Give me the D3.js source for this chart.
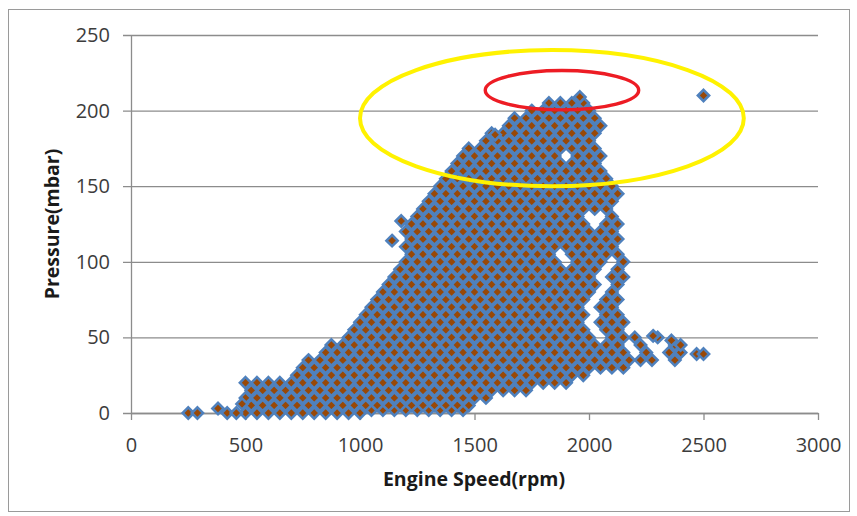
<!DOCTYPE html>
<html><head><meta charset="utf-8">
<script src="https://cdn.jsdelivr.net/npm/d3@7"></script>
<style>body{margin:0;background:#fff}svg{display:block}</style>
</head><body>
<svg id="c" width="857" height="516"></svg>
<script>
// ---------- data ----------
const xTicks = [0, 500, 1000, 1500, 2000, 2500, 3000];
const yTicks = [0, 50, 100, 150, 200, 250];
const xTitle = "Engine Speed(rpm)";
const yTitle = "Pressure(mbar)";

// pressure level (mbar) of each row of readings, and the engine speeds (rpm) read at that level
const pressureLevels = [0,2,5,10,15,20,25,30,35,40,45,50,55,60,65,70,75,80,85,90,95,100,105,110,115,120,125,130,135,140,145,150,155,160,165,170,175,180,185,190,195,200,205];
const speedRows = [
 [500,550,600,650,700,750,800,850,900,950,1000],
 [1050,1100,1150,1200,1250,1300,1350,1400,1450],
 [525,575,625,675,725,775,825,875,925,975,1025,1075,1125,1175,1225,1275,1325,1375,1425,1475],
 [500,550,600,650,700,750,800,850,900,950,1000,1050,1100,1150,1200,1250,1300,1350,1400,1450,1500,1550],
 [525,575,625,675,725,775,825,875,925,975,1025,1075,1125,1175,1225,1275,1325,1375,1425,1475,1525,1575,1625,1675,1725],
 [500,550,600,650,700,750,800,850,900,950,1000,1050,1100,1150,1200,1250,1300,1350,1400,1450,1500,1550,1600,1650,1700,1750,1800,1850,1900],
 [725,775,825,875,925,975,1025,1075,1125,1175,1225,1275,1325,1375,1425,1475,1525,1575,1625,1675,1725,1775,1825,1875,1925,1975],
 [750,800,850,900,950,1000,1050,1100,1150,1200,1250,1300,1350,1400,1450,1500,1550,1600,1650,1700,1750,1800,1850,1900,1950,2000,2050,2100,2150],
 [775,825,875,925,975,1025,1075,1125,1175,1225,1275,1325,1375,1425,1475,1525,1575,1625,1675,1725,1775,1825,1875,1925,1975,2025,2075,2125,2175,2225,2275,2375],
 [850,900,950,1000,1050,1100,1150,1200,1250,1300,1350,1400,1450,1500,1550,1600,1650,1700,1750,1800,1850,1900,1950,2000,2050,2100,2150,2250,2350,2400],
 [875,925,975,1025,1075,1125,1175,1225,1275,1325,1375,1425,1475,1525,1575,1625,1675,1725,1775,1825,1875,1925,1975,2025,2075,2125,2225,2375],
 [950,1000,1050,1100,1150,1200,1250,1300,1350,1400,1450,1500,1550,1600,1650,1700,1750,1800,1850,1900,1950,2000,2100,2150,2200,2300],
 [975,1025,1075,1125,1175,1225,1275,1325,1375,1425,1475,1525,1575,1625,1675,1725,1775,1825,1875,1925,1975,2075,2125],
 [1000,1050,1100,1150,1200,1250,1300,1350,1400,1450,1500,1550,1600,1650,1700,1750,1800,1850,1900,1950,2050,2100,2150],
 [1025,1075,1125,1175,1225,1275,1325,1375,1425,1475,1525,1575,1625,1675,1725,1775,1825,1875,1925,1975,2075,2125],
 [1050,1100,1150,1200,1250,1300,1350,1400,1450,1500,1550,1600,1650,1700,1750,1800,1850,1900,1950,2050,2100],
 [1075,1125,1175,1225,1275,1325,1375,1425,1475,1525,1575,1625,1675,1725,1775,1825,1875,1925,1975,2075,2125],
 [1100,1150,1200,1250,1300,1350,1400,1450,1500,1550,1600,1650,1700,1750,1800,1850,1900,1950,2000,2100],
 [1125,1175,1225,1275,1325,1375,1425,1475,1525,1575,1625,1675,1725,1775,1825,1875,1925,1975,2025,2125],
 [1150,1200,1250,1300,1350,1400,1450,1500,1550,1600,1650,1700,1750,1800,1850,1900,1950,2000,2100,2150],
 [1175,1225,1275,1325,1375,1425,1475,1525,1575,1625,1675,1725,1775,1825,1875,1925,1975,2025,2125],
 [1200,1250,1300,1350,1400,1450,1500,1550,1600,1650,1700,1750,1800,1850,1950,2000,2050,2150],
 [1225,1275,1325,1375,1425,1475,1525,1575,1625,1675,1725,1775,1825,1925,1975,2025,2075,2125],
 [1200,1250,1300,1350,1400,1450,1500,1550,1600,1650,1700,1750,1800,1850,1900,1950,2000,2050,2100],
 [1225,1275,1325,1375,1425,1475,1525,1575,1625,1675,1725,1775,1825,1875,1925,1975,2025,2075,2125],
 [1200,1250,1300,1350,1400,1450,1500,1550,1600,1650,1700,1750,1800,1850,1900,1950,2000,2050,2100],
 [1225,1275,1325,1375,1425,1475,1525,1575,1625,1675,1725,1775,1825,1875,1925,1975,2075,2125],
 [1250,1300,1350,1400,1450,1500,1550,1600,1650,1700,1750,1800,1850,1900,1950,2100],
 [1275,1325,1375,1425,1475,1525,1575,1625,1675,1725,1775,1825,1875,1925,1975,2025,2075],
 [1300,1350,1400,1450,1500,1550,1600,1650,1700,1750,1800,1850,1900,1950,2000,2050,2100],
 [1325,1375,1425,1475,1525,1575,1625,1675,1725,1775,1825,1875,1925,1975,2025,2075,2125],
 [1350,1400,1450,1500,1550,1600,1650,1700,1750,1800,1850,1900,1950,2000,2050,2100],
 [1375,1425,1475,1525,1575,1625,1675,1725,1775,1825,1875,1925,1975,2025,2075],
 [1400,1450,1500,1550,1600,1650,1700,1750,1800,1850,1900,1950,2000,2050],
 [1425,1475,1525,1575,1625,1675,1725,1775,1825,1875,1925,1975,2025],
 [1450,1500,1550,1600,1650,1700,1750,1800,1850,1950,2000,2050],
 [1475,1525,1575,1625,1675,1725,1775,1825,1875,1925,1975,2025],
 [1550,1600,1650,1700,1750,1800,1850,1900,1950,2000],
 [1575,1625,1675,1725,1775,1825,1875,1925,1975,2025],
 [1650,1700,1750,1800,1850,1900,1950,2000,2050],
 [1675,1725,1775,1825,1875,1925,1975,2025],
 [1750,1800,1850,1900,1950,2000],
 [1825,1875,1925,1975]
];
// scattered single readings
const looseSpeed    = [250, 290, 420, 460, 380, 485, 2470, 2500, 2400, 2360, 2280, 2500, 1960, 1590, 1140, 1180];
const loosePressure = [0,   0,   0,   0,   3,   6,   39,   39,   45,   48,   51,   210,  209,  184,  114,  127];

// hand-drawn highlight rings (centre and half-axes in data units)
const ringSpeed          = [1838, 1882];
const ringPressure       = [195, 213.5];
const ringSpeedRadius    = [838, 335];
const ringPressureRadius = [45, 13];

// ---------- drawing ----------
const svg = d3.select("#c");
const x = d3.scaleLinear().domain([0, 3000]).range([131, 818]);
const y = d3.scaleLinear().domain([0, 250]).range([413, 35]);
const gridColor = "#8c8c8c";
const textColor = "#3c3c3c";

svg.append("rect").attr("x", 8.5).attr("y", 9.5).attr("width", 841).attr("height", 502)
  .attr("fill", "#fff").attr("stroke", "#9a9a9a").attr("stroke-width", 1);

// y axis with gridlines
const yAxis = svg.append("g").attr("transform", `translate(${x(0)},0)`)
  .call(d3.axisLeft(y).tickValues(yTicks).tickSizeInner(-(x(3000) - x(0))).tickSizeOuter(0).tickPadding(21).tickFormat(d3.format("d")));
yAxis.select(".domain").attr("stroke", gridColor).attr("stroke-width", 1.3);
yAxis.selectAll(".tick line").attr("x1", -8).attr("stroke", gridColor).attr("stroke-width", 1.3);
yAxis.selectAll(".tick text").attr("fill", textColor).style("font-family", "'Open Sans'").style("font-size", "20px");

// x axis
const xAxis = svg.append("g").attr("transform", `translate(0,${y(0)})`)
  .call(d3.axisBottom(x).tickValues(xTicks).tickSizeInner(7).tickSizeOuter(0).tickPadding(18).tickFormat(d3.format("d")));
xAxis.select(".domain").attr("stroke", gridColor).attr("stroke-width", 1.3);
xAxis.selectAll(".tick line").attr("stroke", gridColor).attr("stroke-width", 1.3);
xAxis.selectAll(".tick text").attr("fill", textColor).style("font-family", "'Open Sans'").style("font-size", "20px");

// titles
svg.append("text").attr("x", 474).attr("y", 486).attr("text-anchor", "middle")
  .style("font-family", "'Open Sans'").style("font-weight", "bold").style("font-size", "19.5px")
  .attr("fill", "#1a1a1a").text(xTitle);
svg.append("text").attr("transform", "translate(59,224) rotate(-90)").attr("text-anchor", "middle")
  .style("font-family", "'Open Sans'").style("font-weight", "bold").style("font-size", "19.5px")
  .attr("fill", "#1a1a1a").text(yTitle);

// points
const points = [];
pressureLevels.forEach((p, i) => speedRows[i].forEach(s => points.push({s, p})));
looseSpeed.forEach((s, i) => points.push({s, p: loosePressure[i]}));

const r = 5.6;
const diamond = `M0,${-r}L${r},0L0,${r}L${-r},0Z`;
svg.append("g").selectAll("path").data(points).join("path")
  .attr("d", diamond)
  .attr("transform", d => `translate(${x(d.s)},${y(d.p)})`)
  .attr("fill", "#984807").attr("stroke", "#4f81bd").attr("stroke-width", 2.6).attr("stroke-linejoin", "miter");

// rings
const ringColors = ["#fff200", "#ed1c24"];
const ringWidths = [4, 3.4];
svg.append("g").selectAll("ellipse").data(ringSpeed).join("ellipse")
  .attr("cx", (d) => x(d))
  .attr("cy", (d, i) => y(ringPressure[i]))
  .attr("rx", (d, i) => x(ringSpeedRadius[i]) - x(0))
  .attr("ry", (d, i) => y(0) - y(ringPressureRadius[i]))
  .attr("fill", "none")
  .attr("stroke", (d, i) => ringColors[i])
  .attr("stroke-width", (d, i) => ringWidths[i]);
</script>
</body></html>
